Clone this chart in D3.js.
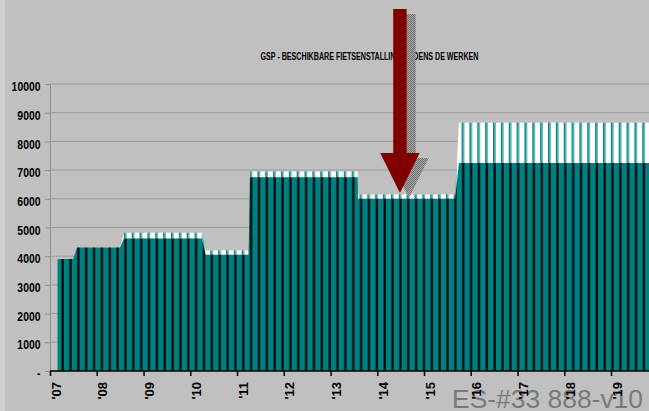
<!DOCTYPE html>
<html>
<head>
<meta charset="utf-8">
<script src="https://cdn.jsdelivr.net/npm/d3@7/dist/d3.min.js"></script>
<style>
  body { margin: 0; background: #c0c0c0; }
  svg { display: block; font-family: "Liberation Sans", Arial, sans-serif; }
</style>
</head>
<body>
<div id="chart"></div>
<script>
var WIDTH = 649;
var HEIGHT = 411;
var TITLE = 'GSP - BESCHIKBARE FIETSENSTALLING TIJDENS DE WERKEN';
var WATERMARK = 'ES-#33 888-v10';

// breakpoints of the capacity steps
var dates = ['2007-03-01', '2007-07-01', '2007-08-01', '2008-07-01', '2008-08-01',
  '2010-04-01', '2010-05-01', '2011-04-01', '2011-04-12', '2013-08-01',
  '2013-08-03', '2015-09-01', '2015-10-01', '2019-11-01'];
var baseCapacity = [3900, 3900, 4300, 4300, 4620, 4620, 4050, 4050, 6750, 6750,
  6000, 6000, 7250, 7250];
var extraCapacity = [0, 0, 0, 0, 200, 200, 150, 150, 200, 200,
  150, 150, 1400, 1400];
var yTicks = [0, 1000, 2000, 3000, 4000, 5000, 6000, 7000, 8000, 9000, 10000];
var yearTicks = ['2007', '2008', '2009', '2010', '2011', '2012', '2013',
  '2014', '2015', '2016', '2017', '2018', '2019'];
var arrowTip = { date: '2014-06-27', value: 6200 };

var parse = d3.timeParse('%Y-%m-%d');
var parseYear = d3.timeParse('%Y');

var rows = dates.map(function (d, i) {
  return { date: parse(d), base: baseCapacity[i], extra: extraCapacity[i] };
});

var x = d3.scaleTime()
  .domain([parseYear('2007'), parseYear('2019')])
  .range([50, 611]);
var y = d3.scaleLinear()
  .domain([0, 10000])
  .range([371, 84]);

var $svg = d3.select('#chart').append('svg')
  .attr('width', WIDTH)
  .attr('height', HEIGHT);

var defs = $svg.append('defs');

function stripePattern (id, bg, dark, light) {
  var p = defs.append('pattern')
    .attr('id', id)
    .attr('patternUnits', 'userSpaceOnUse')
    .attr('x', 61)
    .attr('width', 7.855)
    .attr('height', 8);
  p.append('rect').attr('width', 7.855).attr('height', 8).attr('fill', bg);
  p.append('rect').attr('x', 0).attr('width', 1).attr('height', 8).attr('fill', dark);
  p.append('rect').attr('x', 1).attr('width', 1.7).attr('height', 8).attr('fill', light);
}
stripePattern('stripe-teal', '#008080', '#004a4a', '#000000');
stripePattern('stripe-white', '#ffffff', '#008080', '#45a9a9');

var checker = defs.append('pattern')
  .attr('id', 'checker')
  .attr('patternUnits', 'userSpaceOnUse')
  .attr('width', 2)
  .attr('height', 2);
checker.append('rect').attr('width', 2).attr('height', 2).attr('fill', '#a8a8a8');
checker.append('rect').attr('width', 1).attr('height', 1).attr('fill', '#6e6e6e');
checker.append('rect').attr('x', 1).attr('y', 1).attr('width', 1).attr('height', 1).attr('fill', '#6e6e6e');

// light strip on the left edge
$svg.append('rect')
  .attr('width', 5)
  .attr('height', HEIGHT)
  .attr('fill', '#cfcfcf');

// gridlines
$svg.append('g')
  .selectAll('line')
  .data(yTicks.filter(function (d) { return d > 0; }))
  .enter()
    .append('line')
    .attr('x1', x.range()[0])
    .attr('x2', WIDTH)
    .attr('y1', function (d) { return y(d); })
    .attr('y2', function (d) { return y(d); })
    .attr('stroke', '#9a9a9a')
    .attr('stroke-width', 1);

var lowerArea = d3.area()
  .x(function (d) { return x(d.date); })
  .y0(y(0))
  .y1(function (d) { return y(d.base); });

var upperArea = d3.area()
  .x(function (d) { return x(d.date); })
  .y0(function (d) { return y(d.base); })
  .y1(function (d) { return y(d.base + d.extra); });

$svg.append('path')
  .datum(rows)
  .attr('d', upperArea)
  .attr('fill', 'url(#stripe-white)');

$svg.append('path')
  .datum(rows)
  .attr('d', lowerArea)
  .attr('fill', 'url(#stripe-teal)');

// title
$svg.append('text')
  .attr('x', 369.5)
  .attr('y', 60)
  .attr('text-anchor', 'middle')
  .attr('font-size', 10)
  .attr('font-weight', 'bold')
  .attr('textLength', 218)
  .attr('lengthAdjust', 'spacingAndGlyphs')
  .text(TITLE);

// arrow and its shadow
function arrowPoints (tx, ty) {
  return [[tx - 6.7, ty - 184], [tx + 6.7, ty - 184], [tx + 6.7, ty - 40],
    [tx + 19.7, ty - 40], [tx, ty], [tx - 19.7, ty - 40], [tx - 6.7, ty - 40]];
}
var tipX = x(parse(arrowTip.date));
var tipY = y(arrowTip.value);
$svg.append('polygon')
  .attr('points', arrowPoints(tipX + 9, tipY + 5).join(' '))
  .attr('fill', 'url(#checker)');
$svg.append('polygon')
  .attr('points', arrowPoints(tipX, tipY).join(' '))
  .attr('fill', '#800000');

// watermark
$svg.append('text')
  .attr('x', 452)
  .attr('y', 408)
  .attr('font-size', 26)
  .attr('fill', '#7a7a7a')
  .attr('textLength', 191)
  .attr('lengthAdjust', 'spacingAndGlyphs')
  .text(WATERMARK);

// y axis
var yAxis = $svg.append('g')
  .attr('transform', 'translate(' + x.range()[0] + ',0)')
  .call(d3.axisLeft(y)
    .tickValues(yTicks)
    .tickSize(5)
    .tickSizeOuter(0)
    .tickFormat(function (d) { return d === 0 ? '-' : String(d); }));
yAxis.select('.domain').attr('stroke', '#8f8f8f');
yAxis.selectAll('.tick line').attr('stroke', '#8f8f8f');
yAxis.selectAll('.tick text')
  .attr('font-family', '"Liberation Sans", Arial, sans-serif')
  .attr('font-size', 13)
  .attr('font-weight', 'bold')
  .attr('fill', '#000')
  .attr('transform', 'scale(0.8,1)')
  .attr('x', -9.5 / 0.8)
  .attr('y', 2.5);

// x axis
var xAxis = $svg.append('g')
  .attr('transform', 'translate(0,' + y(0) + ')')
  .call(d3.axisBottom(x)
    .tickValues(yearTicks.map(parseYear))
    .tickSize(5)
    .tickSizeOuter(0)
    .tickFormat(d3.timeFormat("'%y")));
xAxis.select('.domain').remove();
xAxis.append('line')
  .attr('x1', x.range()[0])
  .attr('x2', WIDTH)
  .attr('stroke', '#000')
  .attr('stroke-width', 1.5);
xAxis.selectAll('.tick line').attr('stroke', '#000').attr('stroke-width', 1.5);
xAxis.selectAll('.tick text')
  .attr('font-family', '"Liberation Sans", Arial, sans-serif')
  .attr('font-size', 13)
  .attr('font-weight', 'bold')
  .attr('fill', '#000')
  .attr('x', 0)
  .attr('y', 0)
  .attr('dy', '0.35em')
  .attr('text-anchor', 'end')
  .attr('transform', 'translate(5.5,11) rotate(-90)');
</script>
</body>
</html>
